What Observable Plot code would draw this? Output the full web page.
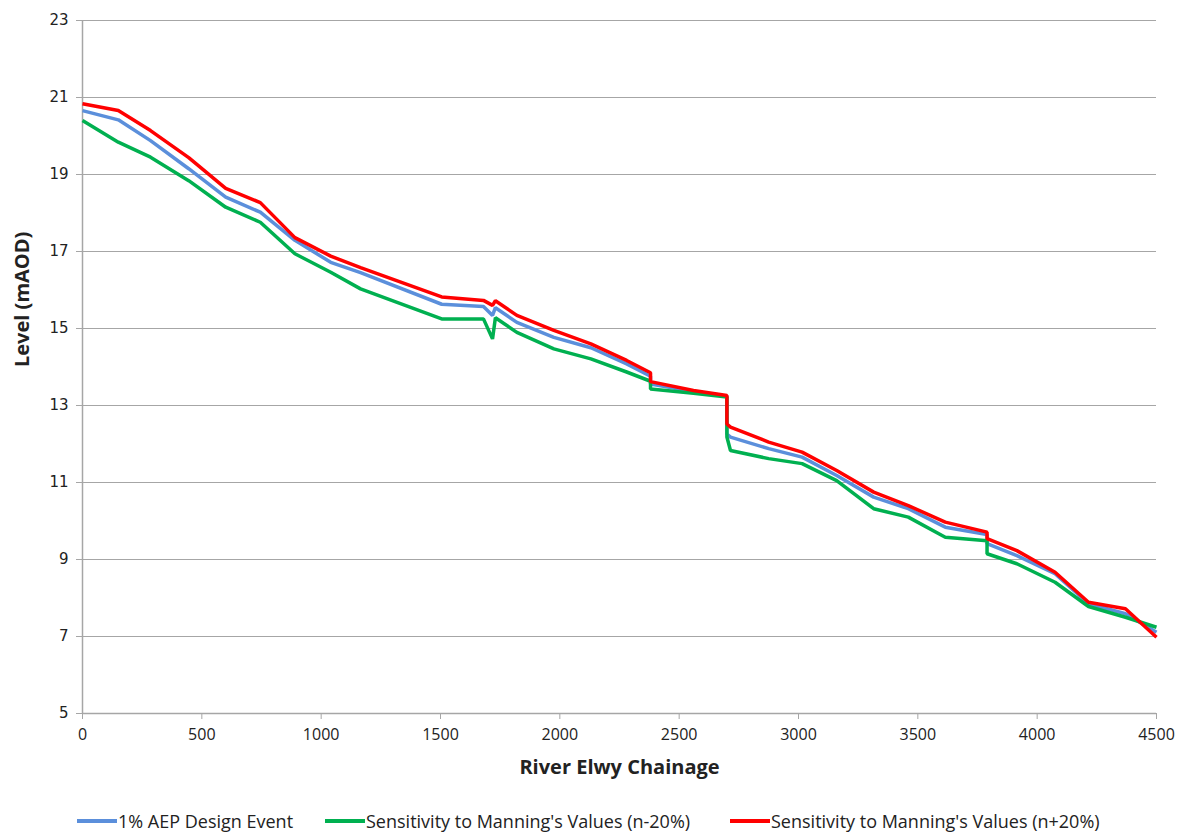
<!DOCTYPE html>
<html>
<head>
<meta charset="utf-8">
<script src="https://cdn.jsdelivr.net/npm/d3@7"></script>
<script src="https://cdn.jsdelivr.net/npm/@observablehq/plot@0.6"></script>
<style>
  html, body { margin: 0; padding: 0; background: #fff; }
  #wrap { position: relative; width: 1183px; height: 836px; overflow: hidden; }
  #legend { position: absolute; left: 0; top: 810px; width: 1183px; font-family: "Open Sans", sans-serif; font-size: 18px; line-height: 22px; color: #222; }
  .item { position: absolute; display: flex; align-items: center; white-space: nowrap; }
  .sw { width: 40px; height: 4px; margin-right: 1px; }
</style>
</head>
<body>
<div id="wrap">
  <div id="chart"></div>
  <div id="legend"></div>
</div>
<script>
const chainage = [0,150,285,445,600,745,890,1040,1165,1505,1680,1718,1730,1820,1975,2130,2280,2380,2380,2560,2700,2700,2715,2875,3015,3160,3315,3460,3615,3790,3790,3915,4075,4215,4370,4500];
const designLevel = [20.66,20.42,19.88,19.15,18.41,18.02,17.29,16.72,16.45,15.63,15.57,15.34,15.54,15.16,14.77,14.50,14.08,13.76,13.56,13.36,13.24,12.26,12.18,11.88,11.66,11.18,10.62,10.32,9.84,9.65,9.41,9.10,8.63,7.85,7.59,7.11];
const minus20Level = [20.40,19.84,19.45,18.84,18.15,17.76,16.94,16.46,16.03,15.25,15.25,14.73,15.28,14.90,14.47,14.21,13.87,13.63,13.43,13.32,13.22,12.18,11.83,11.62,11.49,11.05,10.32,10.10,9.58,9.49,9.15,8.89,8.41,7.78,7.50,7.24];
const plus20Level = [20.84,20.66,20.14,19.44,18.64,18.27,17.36,16.88,16.58,15.82,15.73,15.60,15.72,15.34,14.95,14.60,14.17,13.85,13.62,13.39,13.26,12.52,12.44,12.05,11.79,11.31,10.75,10.40,9.97,9.71,9.54,9.23,8.67,7.89,7.72,6.98];
const seriesNames = ["1% AEP Design Event", "Sensitivity to Manning's Values (n-20%)", "Sensitivity to Manning's Values (n+20%)"];
const seriesColors = ["#5b8fdb", "#00b050", "#ff0000"];
const xTicks = [0,500,1000,1500,2000,2500,3000,3500,4000,4500];
const yTicks = [5,7,9,11,13,15,17,19,21,23];
const xTitle = "River Elwy Chainage";
const yTitle = "Level (mAOD)";

const levels = [designLevel, minus20Level, plus20Level];
const rows = [];
levels.forEach((arr, s) => arr.forEach((v, i) => rows.push({series: seriesNames[s], x: chainage[i], y: v})));

const chart = Plot.plot({
  width: 1183,
  height: 800,
  marginLeft: 82,
  marginRight: 27,
  marginTop: 20,
  marginBottom: 87,
  style: {fontFamily: "'Open Sans', sans-serif", color: "#222", background: "#fff"},
  x: {domain: [0, 4500]},
  y: {domain: [5, 23]},
  color: {domain: seriesNames, range: seriesColors},
  marks: [
    Plot.ruleY(yTicks.filter(d => d > 5), {stroke: "#a6a6a6", strokeWidth: 1.2}),
    Plot.ruleY([5], {stroke: "#a6a6a6", strokeWidth: 1.5}),
    Plot.ruleX([0], {stroke: "#a6a6a6", strokeWidth: 1.5}),
    Plot.axisX({ticks: xTicks, tickSize: 6, tickPadding: 9, stroke: "#a6a6a6", fontSize: 16, label: null, tickFormat: d => String(d)}),
    Plot.axisY({ticks: yTicks, tickSize: 6, tickPadding: 8, stroke: "#a6a6a6", fontSize: 15, fontFamily: "'DejaVu Sans', Verdana, sans-serif", label: null, tickFormat: d => String(d)}),
    Plot.line(rows, {x: "x", y: "y", z: "series", stroke: "series", strokeWidth: 3.5, strokeLinejoin: "miter", strokeLinecap: "butt"}),
    Plot.text([xTitle], {frameAnchor: "bottom", dy: 60, fontSize: 20, fontWeight: "bold", fill: "#222"}),
    Plot.text([yTitle], {frameAnchor: "left", dx: -60, rotate: -90, fontSize: 20, fontWeight: "bold", fill: "#222"})
  ]
});
document.getElementById("chart").appendChild(chart);

const lefts = [77, 325, 730];
const legend = document.getElementById("legend");
seriesNames.forEach((n, i) => {
  const it = document.createElement("div");
  it.className = "item";
  it.style.left = lefts[i] + "px";
  const sw = document.createElement("div");
  sw.className = "sw";
  sw.style.background = seriesColors[i];
  const t = document.createElement("span");
  t.textContent = n;
  it.appendChild(sw); it.appendChild(t);
  legend.appendChild(it);
});
</script>
</body>
</html>
